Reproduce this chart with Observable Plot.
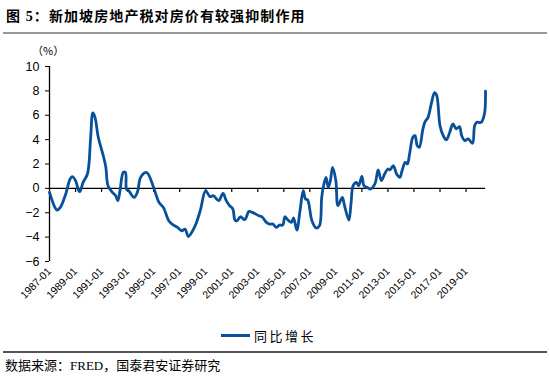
<!DOCTYPE html>
<html><head><meta charset="utf-8">
<script src="https://cdn.jsdelivr.net/npm/d3@7"></script>
<script src="https://cdn.jsdelivr.net/npm/@observablehq/plot@0.6"></script>
<style>
body{margin:0;background:#fff;}
#wrap{position:relative;width:550px;height:378px;overflow:hidden;font-family:"Liberation Serif","Noto Sans CJK SC",serif;color:#000;}
#title{position:absolute;left:6px;top:5px;font-size:14px;font-weight:bold;white-space:nowrap;letter-spacing:1.1px;}
#rule1{position:absolute;left:3px;top:32px;width:544px;height:2px;background:#9a9a9a;}
#unit{position:absolute;left:32px;top:42px;font-size:11px;font-family:"Noto Sans CJK SC",sans-serif;}
#chart{position:absolute;left:0;top:0;}
#legend{position:absolute;left:221px;top:326px;font-size:13px;white-space:nowrap;display:flex;align-items:center;letter-spacing:2.5px;}
#legend .sw{display:inline-block;width:29px;height:3px;margin-right:4px;}
#rule2{position:absolute;left:3px;top:351px;width:544px;height:1.5px;background:#555;}
#source{position:absolute;left:5px;top:355px;font-size:13px;white-space:nowrap;}
</style></head>
<body><div id="wrap">
<div id="title">图 5：新加坡房地产税对房价有较强抑制作用</div>
<div id="rule1"></div>
<div id="chart"></div>
<div id="unit">（%）</div>
<div id="legend"><span class="sw"></span><span id="legtext"></span></div>
<div id="rule2"></div>
<div id="source">数据来源：FRED，国泰君安证券研究</div>
</div>
<script>
const seriesName = "同比增长";
const lineColor = "#08509a";
const dates = ["1987-01","1987-06","1987-08","1987-11","1988-04","1988-08","1988-10","1989-01","1989-04","1989-05","1989-08","1989-12","1990-03","1990-05","1990-07","1990-10","1991-03","1991-05","1991-07","1991-11","1992-02","1992-04","1992-06","1992-09","1992-11","1992-12","1993-02","1993-07","1993-10","1994-01","1994-06","1994-08","1995-01","1995-06","1995-10","1996-03","1996-06","1996-11","1997-03","1997-06","1997-09","1998-01","1998-04","1998-08","1999-01","1999-05","1999-08","2000-01","2000-05","2000-08","2000-11","2001-02","2001-04","2001-06","2001-09","2002-01","2002-05","2002-08","2003-02","2003-05","2003-09","2003-12","2004-03","2004-06","2004-09","2004-12","2005-02","2005-04","2005-08","2005-10","2006-01","2006-04","2006-07","2006-09","2006-11","2007-03","2007-07","2007-10","2007-12","2008-02","2008-04","2008-06","2008-08","2008-10","2009-01","2009-03","2009-07","2009-09","2010-01","2010-03","2010-05","2010-08","2010-10","2011-01","2011-03","2011-06","2011-09","2012-01","2012-04","2012-07","2012-10","2013-01","2013-03","2013-06","2013-09","2013-12","2014-02","2014-05","2014-07","2014-09","2014-12","2015-02","2015-04","2015-06","2015-09","2015-11","2016-02","2016-05","2016-08","2016-10","2017-01","2017-04","2017-07","2017-10","2018-01","2018-04","2018-07","2018-09","2018-12","2019-03","2019-07","2019-09","2019-11","2020-03","2020-06","2020-07"];
const values = [-0.33,-1.56,-1.78,-1.56,-0.46,0.77,0.96,0.63,-0.19,-0.27,0.49,1.18,4.19,6.2,5.83,4.19,2.55,1.73,0.22,-0.33,-0.6,-1.01,-0.19,1.31,1.31,-0.05,-0.19,-0.74,-0.33,0.9,1.31,1.18,0.08,-1.15,-1.56,-2.65,-2.93,-3.2,-3.48,-3.34,-3.95,-3.48,-2.93,-1.83,-0.19,-0.68,-0.6,-1.01,-0.41,-1.01,-1.42,-1.69,-2.6,-2.65,-2.33,-2.57,-1.89,-1.97,-2.24,-2.33,-2.79,-2.93,-2.93,-3.2,-3.01,-3.01,-2.33,-2.51,-2.79,-2.43,-3.42,-1.83,-0.19,-0.87,-0.95,-2.65,-3.25,-3.06,-0.74,0.36,0.9,0.08,0.63,1.73,0.63,-1.42,-0.74,-1.42,-2.6,-1.28,0.22,0.49,0.22,0.99,0.22,0.08,-0.05,0.36,1.51,0.63,1.18,1.59,1.51,1.87,1.18,0.9,1.45,2.14,2.0,2.83,4.19,4.33,3.51,3.37,4.74,5.42,5.83,6.94,7.85,7.62,5.15,4.33,3.98,4.6,5.29,4.88,5.07,4.33,3.92,4.06,3.7,5.15,5.42,5.42,6.11,7.97];
const xTickLabels = ["1987-01","1989-01","1991-01","1993-01","1995-01","1997-01","1999-01","2001-01","2003-01","2005-01","2007-01","2009-01","2011-01","2013-01","2015-01","2017-01","2019-01"];
const yTicks = [-6,-4,-2,0,2,4,6,8,10];

const parse = d3.utcParse("%Y-%m");
const data = dates.map((d, i) => ({date: parse(d), value: values[i]}));
const tickDates = xTickLabels.map(parse);
const xStart = parse("1987-01"), xEnd = parse("2020-07");

document.querySelector("#legend .sw").style.background = lineColor;
document.getElementById("legtext").textContent = seriesName;

const chart = Plot.plot({
  width: 550, height: 320,
  marginLeft: 49, marginRight: 65, marginTop: 66, marginBottom: 59,
  style: {fontFamily: "'Liberation Sans', Arial, sans-serif", fontSize: "12px", color: "#000", background: "transparent", overflow: "visible"},
  x: {type: "utc", domain: [xStart, xEnd]},
  y: {domain: [-6, 10]},
  marks: [
    Plot.axisY({ticks: yTicks, tickSize: 4, tickPadding: 6, label: null, fontSize: 12.5}),
    Plot.ruleX([xStart], {y1: () => -6, y2: () => 10, stroke: "#000", strokeWidth: 1.3}),
    Plot.ruleY([0], {stroke: "#000", strokeWidth: 1.3}),
    Plot.ruleX(tickDates.slice(1), {x: d => d, y1: () => 0, y2: () => -0.33, stroke: "#000", strokeWidth: 1.2}),
    Plot.axisX({ticks: tickDates, tickFormat: d3.utcFormat("%Y-%m"), tickRotate: -45, tickSize: 0, tickPadding: 8, label: null, anchor: "bottom", fontSize: 10.5}),
    Plot.line(data, {x: "date", y: "value", stroke: lineColor, strokeWidth: 2.8, curve: "catmull-rom"})
  ]
});
document.getElementById("chart").appendChild(chart);
</script>
</body></html>
